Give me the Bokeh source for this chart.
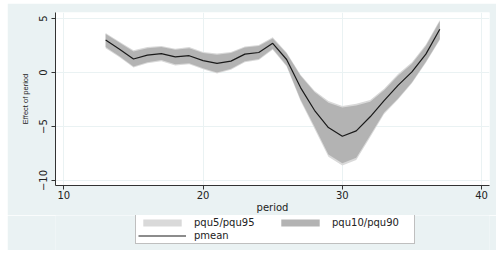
from bokeh.plotting import figure
from bokeh.layouts import column
from bokeh.models import Range1d, FixedTicker, Legend, LegendItem, ColumnDataSource
from bokeh.embed import file_html
from bokeh.resources import INLINE

period = [13, 14, 15, 16, 17, 18, 19, 20, 21, 22, 23, 24, 25,
          26, 27, 28, 29, 30, 31, 32, 33, 34, 35, 36, 37]
pmean = [3.0, 2.15, 1.25, 1.6, 1.75, 1.45, 1.55, 1.1, 0.85, 1.05, 1.7, 1.85, 2.7,
         1.2, -1.4, -3.5, -5.1, -5.9, -5.4, -4.1, -2.6, -1.2, 0.05, 1.7, 4.0]
pqu90 = [3.55, 2.75, 1.95, 2.25, 2.35, 2.1, 2.25, 1.8, 1.65, 1.8, 2.3, 2.45, 3.15,
         1.75, -0.3, -1.8, -2.8, -3.25, -3.05, -2.7, -1.65, -0.3, 0.8, 2.45, 4.75]
pqu10 = [2.35, 1.5, 0.55, 0.95, 1.15, 0.75, 0.85, 0.4, 0.0, 0.35, 1.05, 1.25, 2.2,
         0.65, -2.5, -5.0, -7.6, -8.4, -7.9, -5.8, -3.7, -2.4, -0.9, 1.0, 3.1]
pqu95 = [3.65, 2.85, 2.05, 2.35, 2.45, 2.2, 2.35, 1.9, 1.75, 1.9, 2.4, 2.55, 3.25,
         1.85, -0.2, -1.7, -2.65, -3.1, -2.9, -2.55, -1.5, -0.15, 0.95, 2.6, 4.85]
pqu5 = [2.25, 1.4, 0.45, 0.85, 1.05, 0.65, 0.75, 0.3, -0.1, 0.25, 0.95, 1.15, 2.1,
        0.55, -2.65, -5.2, -7.8, -8.6, -8.1, -6.0, -3.85, -2.5, -1.0, 0.9, 3.0]
x_ticks = [10, 20, 30, 40]
y_ticks = [-10, -5, 0, 5]

src = ColumnDataSource(dict(period=period, pmean=pmean, pqu5=pqu5, pqu95=pqu95,
                            pqu10=pqu10, pqu90=pqu90))

BG = "#EAF2F3"
LIGHT = "#D9D9D9"
DARK = "#B3B3B3"
W = 489

# main plot: page y 3 .. 215
p = figure(width=W, height=212, output_backend="svg", toolbar_location=None,
           x_range=Range1d(9.40, 40.57), y_range=Range1d(-10.46, 5.55),
           min_border_left=48, min_border_right=7, min_border_top=9,
           min_border_bottom=29)
p.background_fill_color = "white"
p.border_fill_color = BG
p.outline_line_color = None

p.varea(x="period", y1="pqu5", y2="pqu95", source=src, fill_color=LIGHT)
p.varea(x="period", y1="pqu10", y2="pqu90", source=src, fill_color=DARK)
p.line(x="period", y="pmean", source=src, line_color="#1a1a1a", line_width=1.2)

for ax in (p.xaxis[0], p.yaxis[0]):
    ax.axis_line_color = "#333333"
    ax.major_tick_line_color = "#333333"
    ax.minor_tick_line_color = None
    ax.major_tick_in = 0
    ax.major_tick_out = 4
    ax.major_label_text_font = "DejaVu Sans"
    ax.major_label_text_font_size = "10px"
    ax.major_label_text_color = "#222222"
    ax.axis_label_text_font_style = "normal"
    ax.axis_label_text_color = "#222222"

p.xaxis.ticker = FixedTicker(ticks=x_ticks)
p.yaxis.ticker = FixedTicker(ticks=y_ticks)
p.xaxis.axis_label = "period"
p.xaxis.axis_label_text_font = "DejaVu Sans"
p.xaxis.axis_label_text_font_size = "10px"
p.xaxis.major_label_standoff = 1
p.xaxis.axis_label_standoff = 0
p.yaxis.axis_label = "Effect of period"
p.yaxis.axis_label_text_font = "Liberation Sans"
p.yaxis.axis_label_text_font_size = "7.5px"
p.yaxis.major_label_orientation = "vertical"
p.yaxis.major_label_standoff = 4
p.yaxis.axis_label_standoff = 7

p.xgrid.ticker = FixedTicker(ticks=x_ticks)
p.ygrid.ticker = FixedTicker(ticks=y_ticks)
p.grid.grid_line_color = BG
p.grid.grid_line_width = 1

# legend strip: page y 215 .. 250
lg = figure(width=W, height=35, output_backend="svg", toolbar_location=None,
            x_range=Range1d(100, 101), y_range=Range1d(100, 101),
            x_axis_type=None, y_axis_type=None, min_border=0)
lg.background_fill_color = BG
lg.border_fill_color = BG
lg.outline_line_color = None
lg.grid.visible = False
r5 = lg.varea(x="period", y1="pqu5", y2="pqu95", source=src, fill_color=LIGHT)
r10 = lg.varea(x="period", y1="pqu10", y2="pqu90", source=src, fill_color=DARK)
rl = lg.line(x="period", y="pmean", source=src, line_color="#1a1a1a", line_width=1.2)

legend = Legend(items=[LegendItem(label="pqu5/pqu95", renderers=[r5]),
                       LegendItem(label="pqu10/pqu90", renderers=[r10]),
                       LegendItem(label="pmean", renderers=[rl])],
                orientation="horizontal", ncols=2, location=(80, 6))
legend.label_text_font = "DejaVu Sans"
legend.label_text_font_size = "10px"
legend.label_text_color = "#222222"
legend.glyph_width = 48
legend.glyph_height = 9
legend.label_standoff = 8
legend.label_width = 80
legend.label_height = 9
legend.spacing = 2
legend.padding = 2
legend.margin = 0
legend.border_line_color = "#7F7F7F"
legend.border_line_width = 1
legend.background_fill_color = "white"
legend.background_fill_alpha = 1
lg.add_layout(legend, "center")

layout = column(p, lg, spacing=0)
layout.margin = (3, 0, 0, 7)

open("out.html", "w").write(file_html(layout, INLINE))
